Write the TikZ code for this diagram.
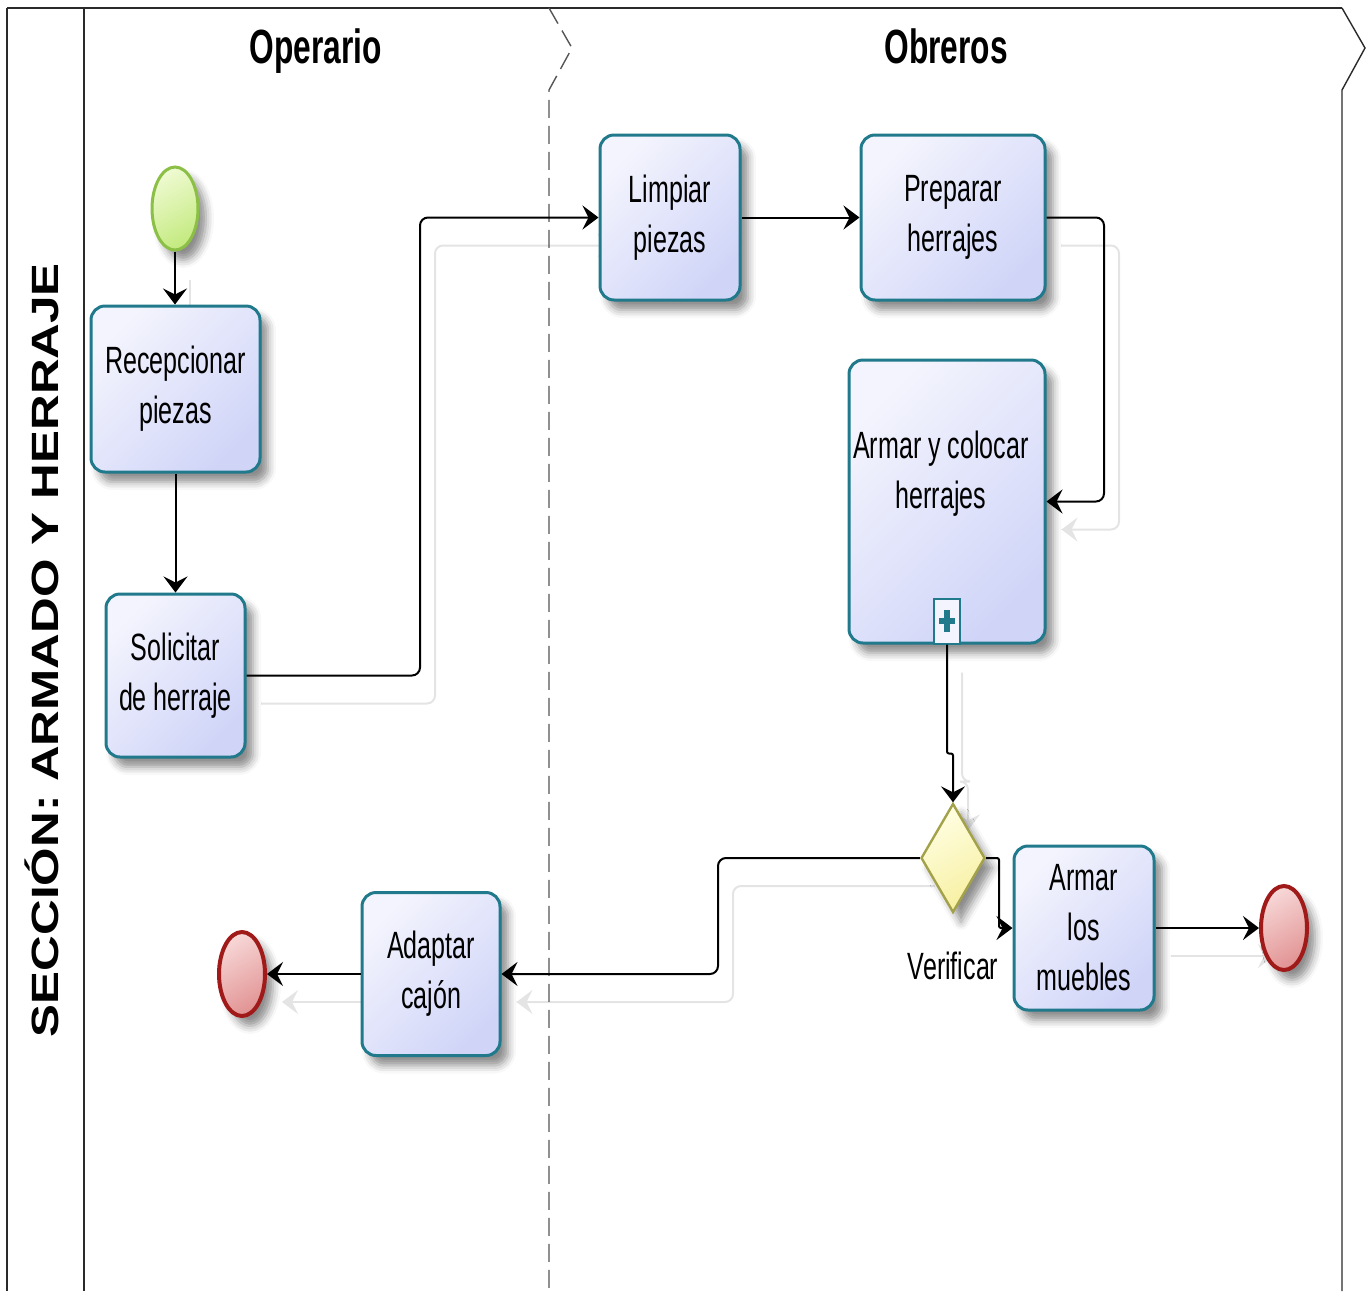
\documentclass[tikz,border=0pt]{standalone}
\usepackage{fontspec}
\setmainfont[FakeStretch=0.66]{Liberation Sans}
\newfontfamily\poolfont[FakeStretch=1.3]{Liberation Sans}
\usetikzlibrary{shapes.geometric,arrows.meta,shadows.blur,backgrounds}

\definecolor{taskline}{HTML}{21798C}
\definecolor{taskA}{HTML}{F3F4FD}
\definecolor{taskB}{HTML}{D0D5F8}
\definecolor{startline}{HTML}{8CBF45}
\definecolor{startA}{HTML}{EEFAD0}
\definecolor{startB}{HTML}{C4EA80}
\definecolor{endline}{HTML}{A01A1A}
\definecolor{endA}{HTML}{F7D6D6}
\definecolor{endB}{HTML}{E29494}
\definecolor{gwline}{HTML}{A3A24A}
\definecolor{gwA}{HTML}{FFFEE2}
\definecolor{gwB}{HTML}{F7F0A2}
\definecolor{ghost}{HTML}{E4E4E4}
\definecolor{framecol}{HTML}{2A2A2A}

\tikzset{
  x=0.5pt, y=-0.5pt,
  softshadow/.style={blur shadow={shadow xshift=4pt, shadow yshift=-5pt,
      shadow blur radius=4pt, shadow opacity=45}},
  task/.style={draw=taskline, line width=1.5pt, rounded corners=7pt,
      top color=taskA, bottom color=taskB, shading angle=45,
      align=center, inner sep=0pt, softshadow,
      font=\fontsize{19}{25}\selectfont},
  tasktext/.style={align=center, inner sep=0pt, font=\fontsize{19}{25}\selectfont},
  startev/.style={ellipse, draw=startline, line width=1.5pt, inner sep=0pt,
      top color=startA, bottom color=startB, shading angle=30,
      minimum width=23pt, minimum height=41.5pt, softshadow},
  endev/.style={ellipse, draw=endline, line width=2pt, inner sep=0pt,
      top color=endA, bottom color=endB, shading angle=30,
      minimum width=23pt, minimum height=42pt, softshadow},
  gateway/.style={diamond, draw=gwline, line width=1.2pt, inner sep=0pt,
      top color=gwA, bottom color=gwB, shading angle=30,
      minimum width=32pt, minimum height=54.5pt, softshadow},
  marker/.style={draw=taskline, line width=1pt, fill=taskA, inner sep=0pt,
      minimum width=13pt, minimum height=22.5pt},
  header/.style={font=\bfseries\fontsize{24}{24}\selectfont, inner sep=0pt, anchor=base},
  pooltitle/.style={font=\poolfont\bfseries\fontsize{19}{19}\selectfont,
      rotate=90, inner sep=0pt},
  flow/.style={draw=black, line width=1pt, rounded corners=4pt,
      -{Stealth[length=8pt, width=12pt, inset=3pt]}},
  ghostflow/.style={draw=ghost, line width=1pt, rounded corners=4pt,
      -{Stealth[length=8pt, width=12pt, inset=3pt]}},
  frameline/.style={draw=framecol, line width=0.7pt},
  laneline/.style={draw=framecol!80, line width=0.7pt, dash pattern=on 9pt off 4pt},
}

\begin{document}
\begin{tikzpicture}
\useasboundingbox (0,0) rectangle (1371,1291);

% pool and lanes
\draw[frameline] (7,8) -- (7,1291);
\draw[frameline] (84,8) -- (84,1291);
\draw[frameline, line width=1.3pt] (7,8) -- (1342,8);
\draw[frameline] (1342,8) -- (1365,48) -- (1342,90) -- (1342,1291);
\draw[laneline] (549,8) -- (572,48) -- (549,90) -- (549,1291);

\node[pooltitle] (pool) at (42,650) {SECCIÓN: ARMADO Y HERRAJE};
\node[header] (laneop) at (316,63) {Operario};
\node[header] (laneob) at (946,63) {Obreros};

% events, tasks and gateway
\node[startev] (start) at (175,208.5) {};
\node[task, minimum width=84.5pt, minimum height=83pt] (rec) at (175.5,389) {Recepcionar\\piezas};
\node[task, minimum width=69.5pt, minimum height=81.5pt] (sol) at (175.5,675.5) {Solicitar\\de herraje};
\node[task, minimum width=70pt, minimum height=82.5pt] (lim) at (670,217.5) {Limpiar\\piezas};
\node[task, minimum width=92pt, minimum height=82.5pt] (pre) at (953,217.5) {Preparar\\herrajes};
\node[task, minimum width=98pt, minimum height=141.5pt] (arm) at (947,501.5) {};
\node[tasktext] (armtxt) at (941,474) {Armar y colocar\\herrajes};
\node[marker, anchor=south] (plus) at (arm.south) {};
\fill[taskline] ([xshift=-4pt, yshift=-1.5pt]plus.center) rectangle ([xshift=4pt, yshift=1.5pt]plus.center);
\fill[taskline] ([xshift=-1.5pt, yshift=-5.5pt]plus.center) rectangle ([xshift=1.5pt, yshift=5.5pt]plus.center);
\node[gateway] (gw) at (953,858) {};
\node[tasktext] (gwlabel) at (953,966) {Verificar};
\node[task, minimum width=70pt, minimum height=82pt] (mue) at (1084,928) {Armar\\los\\muebles};
\node[endev] (endR) at (1284,928) {};
\node[task, minimum width=69pt, minimum height=81.5pt] (ada) at (431,974) {Adaptar\\cajón};
\node[endev] (endL) at (242,974) {};

% bend columns of the connectors
\coordinate (j1) at (420,0);
\coordinate (j2) at (1104,0);
\coordinate (j3) at (718,0);
\coordinate (j4) at (999,0);

% faint offset copies of the sequence flows
\begin{pgfonlayer}{background}
\begin{scope}[transform canvas={xshift=7.5pt, yshift=-14pt}]
\draw[ghostflow] (start.south) -- (start.south |- rec.north);
\draw[ghostflow] (sol.east) -- (sol.east -| j1) |- (lim.west);
\draw[ghostflow] (pre.east) -- (pre.east -| j2) |- (arm.east);
\draw[ghostflow] (arm.south) -- ++(0,109) -| (gw.north);
\draw[ghostflow] (gw.west) -- (gw.west -| j3) |- (ada.east);
\draw[ghostflow] (mue.east) -- (endR.west);
\draw[ghostflow] (ada.west) -- (endL.east);
\end{scope}
\end{pgfonlayer}

% sequence flows
\draw[flow] (start.south) -- (start.south |- rec.north);
\draw[flow] (rec.south) -- (rec.south |- sol.north);
\draw[flow] (sol.east) -- (sol.east -| j1) |- (lim.west);
\draw[flow] (lim.east) -- (pre.west);
\draw[flow] (pre.east) -- (pre.east -| j2) |- (arm.east);
\draw[flow, rounded corners=1pt] (arm.south) -- ++(0,109) -| (gw.north);
\draw[flow, rounded corners=1pt] (gw.east) -- (gw.east -| j4) |- (mue.west);
\draw[flow] (gw.west) -- (gw.west -| j3) |- (ada.east);
\draw[flow] (mue.east) -- (endR.west);
\draw[flow] (ada.west) -- (endL.east);
\end{tikzpicture}
\end{document}
